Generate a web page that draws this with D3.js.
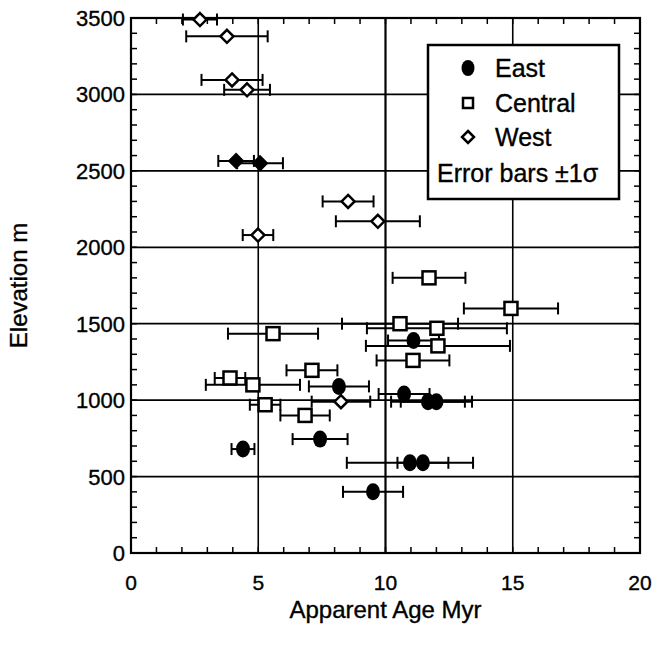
<!DOCTYPE html>
<html>
<head>
<meta charset="utf-8">
<script src="https://cdn.jsdelivr.net/npm/d3@7"></script>
<style>
  body { margin: 0; background: #fff; }
  svg text { font-family: "Liberation Sans", Arial, sans-serif; fill: #000; stroke: #000; stroke-width: 0.35px; }
</style>
</head>
<body>
<div id="viz"></div>
<script>
// [age Myr, elevation m, 1 sigma Myr]
const east = [
  [11.1, 1390, 1.0], [8.17, 1090, 1.18], [10.73, 1040, 1.0], [11.67, 990, 1.45],
  [12.0, 990, 1.4], [7.43, 745, 1.08], [4.4, 680, 0.45], [10.96, 590, 2.48],
  [11.47, 590, 1.0], [9.51, 400, 1.18]
];
const central = [
  [11.71, 1800, 1.43], [14.93, 1600, 1.85], [10.57, 1500, 2.28], [12.02, 1470, 2.75],
  [5.58, 1435, 1.77], [12.06, 1355, 2.83], [11.08, 1260, 1.43], [7.11, 1195, 1.0],
  [3.89, 1145, 0.6], [4.79, 1100, 1.85], [5.27, 970, 0.6], [6.84, 900, 0.97]
];
const west = [
  [2.71, 3490, 0.67], [3.77, 3380, 1.6], [3.97, 3095, 1.2], [4.56, 3030, 0.9],
  [8.53, 2300, 1.0], [9.7, 2170, 1.65], [4.99, 2080, 0.6], [8.25, 990, 1.15]
];
// west samples at ~2550 m print as solid diamonds
const westSolid = [[4.13, 2565, 0.7], [5.07, 2550, 0.9]];

const xTicks = [0, 5, 10, 15, 20];
const yTicks = [0, 500, 1000, 1500, 2000, 2500, 3000, 3500];
const legendItems = ["East", "Central", "West"];

const WIDTH = 653, HEIGHT = 648;
const margin = { left: 131, right: 13, top: 18, bottom: 95 };

const svg = d3.select("#viz").append("svg")
  .attr("width", WIDTH).attr("height", HEIGHT);

const x = d3.scaleLinear().domain([0, 20]).range([margin.left, WIDTH - margin.right]);
const y = d3.scaleLinear().domain([0, 3500]).range([HEIGHT - margin.bottom, margin.top]);

// gridlines
svg.append("g").selectAll("line")
  .data(yTicks.slice(1, -1))
  .join("line")
  .attr("x1", x(0)).attr("x2", x(20))
  .attr("y1", d => y(d)).attr("y2", d => y(d))
  .attr("stroke", "#000").attr("stroke-width", 1.8);
svg.append("g").selectAll("line")
  .data(xTicks.slice(1, -1))
  .join("line")
  .attr("x1", d => x(d)).attr("x2", d => x(d))
  .attr("y1", y(0)).attr("y2", y(3500))
  .attr("stroke", "#000").attr("stroke-width", d => d === 10 ? 2.2 : 1.6);

// minor ticks, pointing inward on all four sides
const tickLen = 6;
const ax = svg.append("g").attr("stroke", "#000").attr("stroke-width", 1.5);
const xMinor = d3.range(1, 20);
const yMinor = d3.range(100, 3500, 100);
ax.selectAll(".xb").data(xMinor).join("line").attr("class", "xb")
  .attr("x1", d => x(d)).attr("x2", d => x(d))
  .attr("y1", y(0)).attr("y2", y(0) - tickLen);
ax.selectAll(".xt").data(xMinor).join("line").attr("class", "xt")
  .attr("x1", d => x(d)).attr("x2", d => x(d))
  .attr("y1", y(3500)).attr("y2", y(3500) + tickLen);
ax.selectAll(".yl").data(yMinor).join("line").attr("class", "yl")
  .attr("x1", x(0)).attr("x2", x(0) + tickLen)
  .attr("y1", d => y(d)).attr("y2", d => y(d));
ax.selectAll(".yr").data(yMinor).join("line").attr("class", "yr")
  .attr("x1", x(20)).attr("x2", x(20) - tickLen)
  .attr("y1", d => y(d)).attr("y2", d => y(d));

// frame
svg.append("rect")
  .attr("x", x(0)).attr("y", y(3500))
  .attr("width", x(20) - x(0)).attr("height", y(0) - y(3500))
  .attr("fill", "none").attr("stroke", "#000").attr("stroke-width", 2.2);

// tick labels
svg.append("g").selectAll("text")
  .data(xTicks)
  .join("text")
  .attr("x", d => x(d)).attr("y", y(0) + 37)
  .attr("text-anchor", "middle")
  .style("font-size", "21px")
  .text(d => d);
svg.append("g").selectAll("text")
  .data(yTicks)
  .join("text")
  .attr("x", x(0) - 6).attr("y", d => y(d) + 8)
  .attr("text-anchor", "end")
  .style("font-size", "22px")
  .text(d => d);

// axis titles
svg.append("text")
  .attr("x", x(10)).attr("y", 618)
  .attr("text-anchor", "middle")
  .style("font-size", "24px")
  .text("Apparent Age Myr");
svg.append("text")
  .attr("transform", `translate(27, ${y(1750)}) rotate(-90)`)
  .attr("text-anchor", "middle")
  .style("font-size", "24px")
  .text("Elevation m");

// error bars
const capH = 6;
function errorBars(data) {
  const g = svg.append("g").attr("stroke", "#000").attr("stroke-width", 2);
  data.forEach(([a, e, s]) => {
    g.append("line").attr("x1", x(a - s)).attr("x2", x(a + s)).attr("y1", y(e)).attr("y2", y(e));
    g.append("line").attr("x1", x(a - s)).attr("x2", x(a - s)).attr("y1", y(e) - capH).attr("y2", y(e) + capH);
    g.append("line").attr("x1", x(a + s)).attr("x2", x(a + s)).attr("y1", y(e) - capH).attr("y2", y(e) + capH);
  });
}
errorBars(west);
errorBars(westSolid);
errorBars(central);
errorBars(east);

const diamond = (cx, cy, r) => `M${cx},${cy - r}L${cx + r},${cy}L${cx},${cy + r}L${cx - r},${cy}Z`;

svg.append("g").selectAll("path")
  .data(west)
  .join("path")
  .attr("d", d => diamond(x(d[0]), y(d[1]), 6.5))
  .attr("fill", "#fff").attr("stroke", "#000").attr("stroke-width", 2.5);
svg.append("g").selectAll("path")
  .data(westSolid)
  .join("path")
  .attr("d", d => diamond(x(d[0]), y(d[1]), 7))
  .attr("fill", "#000").attr("stroke", "#000").attr("stroke-width", 2);

svg.append("g").selectAll("rect")
  .data(central)
  .join("rect")
  .attr("x", d => x(d[0]) - 6.5).attr("y", d => y(d[1]) - 6.5)
  .attr("width", 13).attr("height", 13)
  .attr("fill", "#fff").attr("stroke", "#000").attr("stroke-width", 2.5);

svg.append("g").selectAll("ellipse")
  .data(east)
  .join("ellipse")
  .attr("cx", d => x(d[0])).attr("cy", d => y(d[1]))
  .attr("rx", 7).attr("ry", 8.5)
  .attr("fill", "#000");

// legend
const lg = svg.append("g");
lg.append("rect")
  .attr("x", 428).attr("y", 45).attr("width", 191).attr("height", 154)
  .attr("fill", "#fff").attr("stroke", "#000").attr("stroke-width", 2.5);
const rowY = [68, 103, 137];
lg.append("ellipse").attr("cx", 468).attr("cy", rowY[0]).attr("rx", 6.5).attr("ry", 8).attr("fill", "#000");
lg.append("rect").attr("x", 463).attr("y", rowY[1] - 5).attr("width", 10).attr("height", 10)
  .attr("fill", "#fff").attr("stroke", "#000").attr("stroke-width", 2.5);
lg.append("path").attr("d", diamond(468, rowY[2], 6))
  .attr("fill", "#fff").attr("stroke", "#000").attr("stroke-width", 2.5);
lg.selectAll(".lt").data(legendItems).join("text").attr("class", "lt")
  .attr("x", 495).attr("y", (d, i) => rowY[i] + 9)
  .style("font-size", "25px")
  .text(d => d);
lg.append("text")
  .attr("x", 437).attr("y", 182)
  .style("font-size", "25px")
  .text("Error bars ±1σ");
</script>
</body>
</html>
